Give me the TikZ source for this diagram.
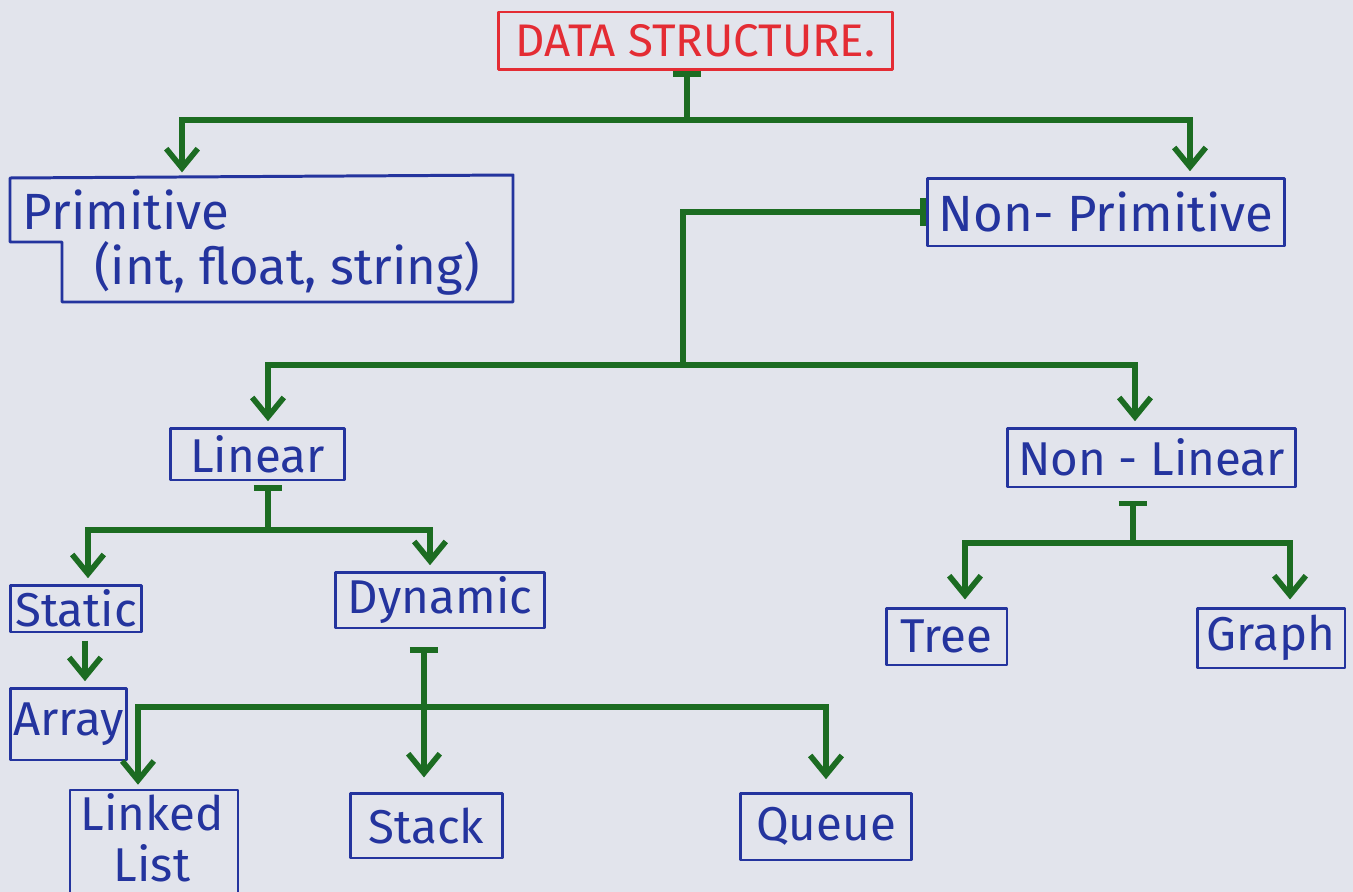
\documentclass[tikz,border=0pt]{standalone}
\usepackage{fontspec}
\setmainfont{Fira Sans}
\usetikzlibrary{arrows.meta}
\definecolor{paper}{RGB}{226,228,236}
\definecolor{ink}{RGB}{36,52,158}
\definecolor{pen}{RGB}{28,108,34}
\definecolor{redink}{RGB}{228,44,52}
\begin{document}
\begin{tikzpicture}[x=0.02cm,y=-0.02cm,
  box/.style={draw=ink, line width=1.7pt, text=ink, font=\fontsize{27}{30}\selectfont, inner sep=0pt, line join=round, align=center},
  lbl/.style={text=ink, font=\fontsize{29}{34}\selectfont, inner sep=0pt},
  conn/.style={draw=pen, line width=3.2pt},
  arr/.style={conn, -{Straight Barb[length=11pt,width=18pt]}, shorten >=3pt},
  tarr/.style={conn, {Bar[width=16pt]}-{Straight Barb[length=11pt,width=18pt]}, shorten >=3pt},
  tline/.style={conn, {Bar[width=16pt]}-}]
\fill[paper] (0,0) rectangle (1353,892);
\useasboundingbox (0,0) rectangle (1353,892);

% nodes
\node[box, draw=redink, text=redink, font=\fontsize{26}{30}\selectfont, minimum width=7.9cm, minimum height=1.16cm] (ds) at (695.5,41) {DATA STRUCTURE.};
\node[minimum width=10.06cm, minimum height=2.48cm, inner sep=0pt] (prim) at (261.5,240) {};
\node[lbl] (primA) at (126,210) {Primitive};
\node[lbl] (primB) at (287,268) {(int, float, string)};
\draw[ink, line width=1.7pt, line join=round] (10,178) -- (513,175) -- (513,302) -- (62,302) -- (62,242) -- (10,242) -- cycle;
\node[box, font=\fontsize{29}{34}\selectfont, minimum width=7.16cm, minimum height=1.36cm] (nonprim) at (1106,212) {Non- Primitive};
\node[box, minimum width=3.5cm, minimum height=1.04cm] (linear) at (257.5,454) {Linear};
\node[box, minimum width=5.78cm, minimum height=1.18cm] (nonlin) at (1151.5,457.5) {Non - Linear};
\node[box, minimum width=2.64cm, minimum height=0.94cm] (static) at (76,608.5) {Static};
\node[box, minimum width=4.2cm, minimum height=1.12cm] (dynamic) at (440,600) {Dynamic};
\node[box, minimum width=2.34cm, minimum height=1.44cm] (array) at (68.5,724) {Array};
\node[box, minimum width=2.42cm, minimum height=1.14cm] (tree) at (946.5,636.5) {Tree};
\node[box, minimum width=2.96cm, minimum height=1.2cm] (graph) at (1271,638) {Graph};
\draw[ink, line width=1.7pt, line join=round] (70,790) rectangle (238,900);
\node[box, draw=none, minimum width=3.36cm, minimum height=1.8cm, font=\fontsize{27}{29}\selectfont] (linked) at (152,838) {Linked\\List};
\node[box, minimum width=3.06cm, minimum height=1.3cm] (stack) at (426.5,825.5) {Stack};
\node[box, minimum width=3.44cm, minimum height=1.34cm] (queue) at (826,826.5) {Queue};

% junctions
\coordinate (j1) at (687,120);
\coordinate (j2) at (683,365);
\coordinate (j3) at (268,530);
\coordinate (j4) at (424,707);
\coordinate (j5) at (1133,543);

% connectors
\draw[tline] (ds.south -| j1) -- (j1);
\draw[arr] (j1) -| (prim.north -| 182,0);
\draw[arr] (j1) -| (nonprim.north -| 1190,0);

\draw[tline] (nonprim.west) -| (j2);
\draw[arr] (j2) -| (linear.north -| 268,0);
\draw[arr] (j2) -| (nonlin.north -| 1135,0);

\draw[tline, shorten <=2pt] (linear.south -| j3) -- (j3);
\draw[arr] (j3) -| (static.north -| 88,0);
\draw[arr] (j3) -| (dynamic.north -| 430,0);

\draw[arr, shorten <=4pt] (static.south -| 85,0) -- (array.north -| 85,0);

\draw[tarr, shorten <=10pt, shorten >=8pt] (dynamic.south -| j4) -- (stack.north -| j4);
\draw[arr] (j4) -| (138,790);
\draw[arr, shorten >=7pt] (j4) -| (queue.north -| 826,0);

\draw[tline, shorten <=7pt] (nonlin.south -| j5) -- (j5);
\draw[arr, shorten >=4pt] (j5) -| (tree.north -| 965,0);
\draw[arr, shorten >=4pt] (j5) -| (graph.north -| 1290,0);
\end{tikzpicture}
\end{document}
